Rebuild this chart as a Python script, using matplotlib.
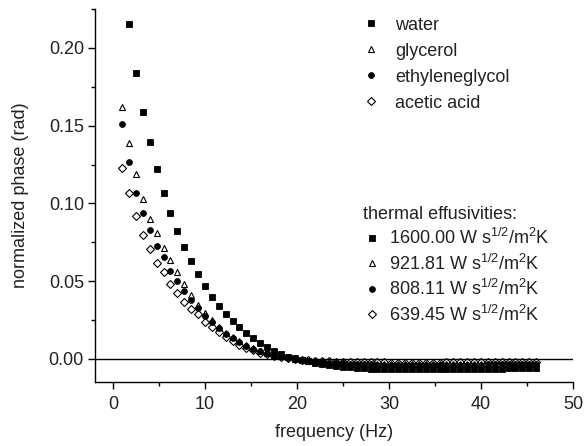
import numpy as np
import matplotlib
matplotlib.use("Agg")
import matplotlib.pyplot as plt
from matplotlib.lines import Line2D
from matplotlib.ticker import MultipleLocator, FormatStrFormatter

plt.rcParams['font.family'] = ['Liberation Sans', 'DejaVu Sans']
plt.rcParams['mathtext.fontset'] = 'custom'
plt.rcParams['mathtext.rm'] = 'Liberation Sans'
plt.rcParams['mathtext.it'] = 'Liberation Sans'

freq = [1.0, 1.75, 2.5, 3.25, 4.0, 4.75, 5.5, 6.25, 7.0, 7.75, 8.5, 9.25, 10.0, 10.75,
        11.5, 12.25, 13.0, 13.75, 14.5, 15.25, 16.0, 16.75, 17.5, 18.25, 19.0, 19.75,
        20.5, 21.25, 22.0, 22.75, 23.5, 24.25, 25.0, 25.75, 26.5, 27.25, 28.0, 28.75,
        29.5, 30.25, 31.0, 31.75, 32.5, 33.25, 34.0, 34.75, 35.5, 36.25, 37.0, 37.75,
        38.5, 39.25, 40.0, 40.75, 41.5, 42.25, 43.0, 43.75, 44.5, 45.25, 46.0]

water = [np.nan, 0.2154, 0.1837, 0.1586, 0.1393, 0.1223, 0.1068, 0.0936, 0.0822, 0.0717,
         0.0631, 0.0547, 0.0468, 0.0399, 0.0341, 0.0290, 0.0245, 0.0204, 0.0167, 0.0135,
         0.0103, 0.0077, 0.0050, 0.0030, 0.0015, 0.0004, -0.0006, -0.0016, -0.0025, -0.0032,
         -0.0038, -0.0044, -0.0049, -0.0053, -0.0057, -0.0060, -0.0062, -0.0064, -0.0065,
         -0.0066, -0.0066, -0.0067, -0.0066, -0.0066, -0.0065, -0.0066, -0.0065, -0.0065,
         -0.0064, -0.0065, -0.0064, -0.0063, -0.0064, -0.0063, -0.0062, -0.0062, -0.0061,
         -0.0060, -0.0059, -0.0058, -0.0058]

glycerol = [0.1622, 0.1390, 0.1187, 0.1026, 0.0903, 0.0807, 0.0712, 0.0635, 0.0556, 0.0479,
            0.0414, 0.0347, 0.0296, 0.0249, 0.0206, 0.0167, 0.0142, 0.0114, 0.0090, 0.0071,
            0.0052, 0.0039, 0.0028, 0.0019, 0.0010, 0.0003, -0.0004, -0.0010, -0.0015, -0.0019,
            -0.0023, -0.0026, -0.0028, -0.0030, -0.0031, -0.0032, -0.0033, -0.0033, -0.0034,
            -0.0034, -0.0034, -0.0035, -0.0035, -0.0034, -0.0035, -0.0034, -0.0034, -0.0035,
            -0.0034, -0.0034, -0.0033, -0.0034, -0.0033, -0.0033, -0.0032, -0.0033, -0.0032,
            -0.0032, -0.0031, -0.0031, -0.0031]

ethyleneglycol = [0.1510, 0.1264, 0.1068, 0.0936, 0.0828, 0.0727, 0.0656, 0.0566, 0.0500, 0.0436,
                  0.0380, 0.0325, 0.0278, 0.0235, 0.0196, 0.0160, 0.0133, 0.0107, 0.0085, 0.0066,
                  0.0049, 0.0036, 0.0025, 0.0016, 0.0008, 0.0001, -0.0005, -0.0011, -0.0016, -0.0020,
                  -0.0024, -0.0027, -0.0029, -0.0031, -0.0033, -0.0034, -0.0035, -0.0036, -0.0036,
                  -0.0037, -0.0037, -0.0037, -0.0038, -0.0037, -0.0037, -0.0038, -0.0037, -0.0037,
                  -0.0036, -0.0037, -0.0036, -0.0036, -0.0036, -0.0035, -0.0035, -0.0035, -0.0034,
                  -0.0034, -0.0034, -0.0033, -0.0033]

acetic_acid = [0.1225, 0.1068, 0.0918, 0.0800, 0.0710, 0.0618, 0.0560, 0.0479, 0.0421, 0.0367,
               0.0324, 0.0286, 0.0238, 0.0206, 0.0172, 0.0142, 0.0114, 0.0093, 0.0071, 0.0056,
               0.0039, 0.0030, 0.0022, 0.0013, 0.0006, 0.0000, -0.0004, -0.0008, -0.0011, -0.0014,
               -0.0016, -0.0018, -0.0019, -0.0020, -0.0021, -0.0021, -0.0022, -0.0022, -0.0022,
               -0.0023, -0.0023, -0.0023, -0.0023, -0.0023, -0.0023, -0.0023, -0.0023, -0.0022,
               -0.0022, -0.0022, -0.0022, -0.0022, -0.0021, -0.0021, -0.0021, -0.0021, -0.0020,
               -0.0020, -0.0020, -0.0020, -0.0020]

names = ["water", "glycerol", "ethyleneglycol", "acetic acid"]
effusivities = ["1600.00", "921.81", "808.11", "639.45"]
series = [water, glycerol, ethyleneglycol, acetic_acid]

styles = [dict(marker='s', ms=4.0, mfc='black', mec='black', mew=0.6),
          dict(marker='^', ms=5.0, mfc='none', mec='black', mew=0.8),
          dict(marker='o', ms=4.2, mfc='black', mec='black', mew=0.6),
          dict(marker='D', ms=4.2, mfc='none', mec='black', mew=0.8)]

FS = 13
TXT = '#222222'
W, H = 585, 446
X0, X1, Y0, Y1 = 95, 573, 9, 382
fig = plt.figure(figsize=(W / 100, H / 100), dpi=100)
ax = fig.add_axes([X0 / W, (H - Y1) / H, (X1 - X0) / W, (Y1 - Y0) / H])

ax.axhline(0, color='black', lw=1.0, zorder=1)
for ys, st in zip(series, styles):
    ax.plot(freq, ys, ls='none', zorder=3, **st)

ax.set_xlim(-1.95, 50)
ax.set_ylim(-0.0148, 0.225)
ax.xaxis.set_major_locator(MultipleLocator(10))
ax.xaxis.set_minor_locator(MultipleLocator(5))
ax.yaxis.set_major_locator(MultipleLocator(0.05))
ax.yaxis.set_minor_locator(MultipleLocator(0.025))
ax.yaxis.set_major_formatter(FormatStrFormatter('%.2f'))
for s in ['top', 'right']:
    ax.spines[s].set_visible(False)
for s in ['left', 'bottom']:
    ax.spines[s].set_linewidth(1.0)
ax.tick_params(which='major', direction='out', length=5, width=1.0, labelsize=FS,
               colors='black', labelcolor=TXT)
ax.tick_params(which='minor', direction='out', length=3, width=1.0)
ax.tick_params(axis='x', pad=5)
ax.tick_params(axis='y', pad=3)

ax.set_xlabel("frequency (Hz)", fontsize=FS, labelpad=8, color=TXT)
ax.set_ylabel("normalized phase (rad)", fontsize=FS, labelpad=14, color=TXT)

def mk(st):
    return Line2D([], [], ls='none', **st)

axw = X1 - X0
axh = Y1 - Y0
leg1 = ax.legend([mk(s) for s in styles], names, loc='upper left',
                 bbox_to_anchor=((349 - X0) / axw, 1.0 + 5 / axh), frameon=False,
                 fontsize=FS, handlelength=1.0, handletextpad=0.85, labelspacing=0.5,
                 borderaxespad=0.3, labelcolor=TXT)
ax.add_artist(leg1)

labels2 = [f"{e} W s$^{{1/2}}$/m$^2$K" for e in effusivities]
leg2 = ax.legend([mk(s) for s in styles], labels2, loc='upper left',
                 bbox_to_anchor=((350 - X0) / axw, (Y1 - 193) / axh),
                 frameon=False, fontsize=FS, handlelength=1.0, handletextpad=0.45,
                 labelspacing=0.3, title="thermal effusivities:", title_fontsize=FS,
                 borderaxespad=0.3, labelcolor=TXT)
leg2._legend_box.align = "left"
leg2.get_title().set_color(TXT)

fig.savefig("out.png", dpi=100)
